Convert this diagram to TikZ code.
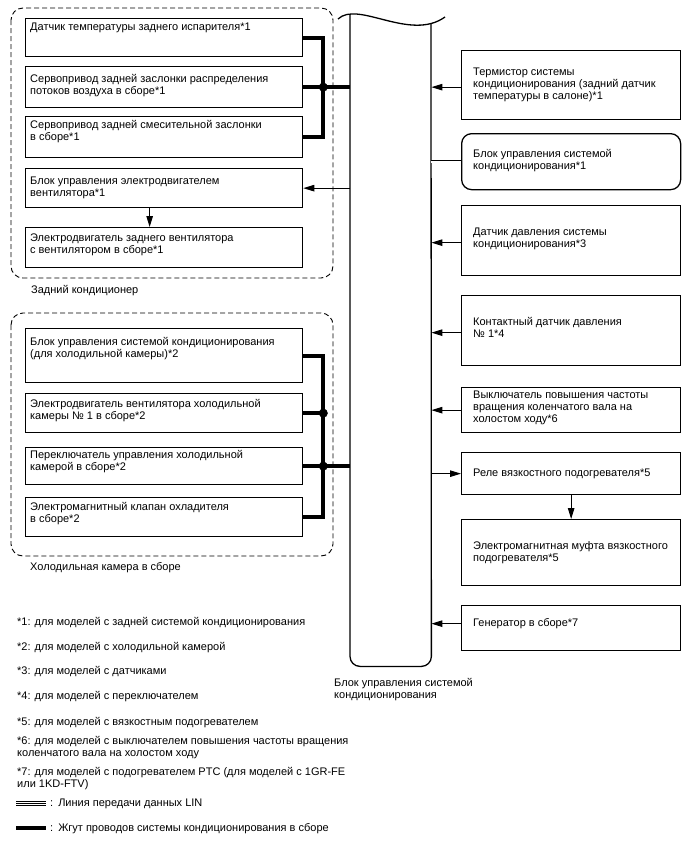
\documentclass[tikz,border=0pt]{standalone}
\usepackage{fontspec}
\setmainfont{Liberation Sans}
\usetikzlibrary{arrows.meta}
\newcommand\mkbox[6][box]{\node[#1, minimum width=#5, minimum height=#6] (#2) at (#3,#4) {};}
\begin{document}
\begin{tikzpicture}[x=1pt,y=-1pt,
  box/.style={draw, line width=1.3pt, inner sep=0pt, anchor=north west},
  rbox/.style={box, rounded corners=10pt},
  txt/.style={anchor=north west, inner sep=0pt, align=left, font=\fontsize{11}{12}\selectfont, execute at begin node=\strut},
  grp/.style={draw, dash pattern=on 5pt off 3pt, line width=0.9pt, rounded corners=12pt},
  harness/.style={line width=3.8pt},
  sig/.style={line width=1pt, -{Triangle[length=11pt,width=6.5pt]}},
  lin/.style={line width=0.7pt, double, double distance=2.2pt},
  jdot/.style={circle, fill=black, draw=black, inner sep=0pt, minimum size=8.5pt},
]
\useasboundingbox (0,0) rectangle (688,852);

% groups
\draw[grp] (11,8) rectangle (333,278);
\draw[grp] (11,313) rectangle (333,556);

% central bar
\node[inner sep=0pt, minimum width=81, minimum height=652, anchor=north west] (bar) at (350,14) {};
\draw[line width=1.3pt, rounded corners=10pt] (bar.north west) -- (bar.south west) -- (bar.south east) -- (431,24);
\draw[line width=1.3pt] (338,19) .. controls (358,0) and (410,42) .. (445,17);
\node[txt] (tbar) at (334,678.6) {Блок управления системой\\кондиционирования};

% left boxes, group 1
\mkbox{A}{25}{18}{277}{38}
\mkbox{B}{25}{66}{277}{41}
\mkbox{C}{25}{116}{277}{41}
\mkbox{D}{25}{168}{277}{39}
\mkbox{E}{25}{227}{277}{40}
\node[txt] (tA) at (30,21.6) {Датчик температуры заднего испарителя*1};
\node[txt] (tB) at (30,74.6) {Сервопривод задней заслонки распределения\\потоков воздуха в сборе*1};
\node[txt] (tC) at (30,120.6) {Сервопривод задней смесительной заслонки\\в сборе*1};
\node[txt] (tD) at (30,176.6) {Блок управления электродвигателем\\вентилятора*1};
\node[txt] (tE) at (30,233.6) {Электродвигатель заднего вентилятора\\с вентилятором в сборе*1};
\node[txt] (g1) at (31,284.6) {Задний кондиционер};

% left boxes, group 2
\mkbox{F}{25}{328}{277}{54}
\mkbox{G}{25}{393}{277}{39}
\mkbox{H}{25}{447}{277}{37}
\mkbox{I}{25}{497}{277}{39}
\node[txt] (tF) at (30,337.6) {Блок управления системой кондиционирования\\(для холодильной камеры)*2};
\node[txt] (tG) at (30,399.6) {Электродвигатель вентилятора холодильной\\камеры № 1 в сборе*2};
\node[txt] (tH) at (30,450.6) {Переключатель управления холодильной\\камерой в сборе*2};
\node[txt] (tI) at (30,502.6) {Электромагнитный клапан охладителя\\в сборе*2};
\node[txt] (g2) at (30,561.6) {Холодильная камера в сборе};

% right boxes
\mkbox{R1}{461}{50}{219}{69}
\mkbox[rbox]{R2}{461}{133}{219}{56}
\mkbox{R3}{461}{205}{219}{70}
\mkbox{R4}{461}{295}{219}{70}
\mkbox{R5}{461}{387}{219}{45}
\mkbox{R6}{461}{452}{219}{42}
\mkbox{R7}{461}{519}{219}{66}
\mkbox{R8}{461}{605}{219}{45}
\node[txt] (t1) at (473,67.6) {Термистор системы\\кондиционирования (задний датчик\\температуры в салоне)*1};
\node[txt] (t2) at (473,149.6) {Блок управления системой\\кондиционирования*1};
\node[txt] (t3) at (473,227.6) {Датчик давления системы\\кондиционирования*3};
\node[txt] (t4) at (473,317.6) {Контактный датчик давления\\№ 1*4};
\node[txt] (t5) at (473,390.6) {Выключатель повышения частоты\\вращения коленчатого вала на\\холостом ходу*6};
\node[txt] (t6) at (473,467.6) {Реле вязкостного подогревателя*5};
\node[txt] (t7) at (473,541.6) {Электромагнитная муфта вязкостного\\подогревателя*5};
\node[txt] (t8) at (473,617.6) {Генератор в сборе*7};

% harness group 1
\path (B.east) ++(20,0) coordinate (j1);
\draw[harness] (A.east) -| (j1) |- (C.east);
\draw[harness] (B.east) -- (B.east -| bar.west);
\node[jdot] (d1) at (j1) {};

% harness group 2
\path (G.east) ++(20,0) coordinate (j2);
\path (H.east) ++(20,0) coordinate (j3);
\draw[harness] (F.east) -| (j2) -- (j3) |- (I.east);
\draw[harness] (H.east) -- (H.east -| bar.west);
\draw[harness] (G.east) -- (j2);
\node[jdot] (d2) at (j2) {};
\node[jdot] (d3) at (j3) {};

% signals left
\draw[sig] (bar.west |- D.east) -- (D.east);
\draw[sig] ([xshift=-14.5pt]D.south) -- ([xshift=-14.5pt]D.south |- E.north);

% signals right
\draw[sig] ([yshift=-2pt]R1.west) -- ([yshift=-2pt]R1.west -| bar.east);
\draw[lin] (bar.east |- R2.west) -- (R2.west);
\draw[sig] ([yshift=-2pt]R3.west) -- ([yshift=-2pt]R3.west -| bar.east);
\draw[sig] ([yshift=-2pt]R4.west) -- ([yshift=-2pt]R4.west -| bar.east);
\draw[sig] (R5.west) -- (R5.west -| bar.east);
\draw[sig] (bar.east |- R6.west) -- (R6.west);
\draw[sig] (R6.south) -- (R7.north);
\draw[sig] ([yshift=4.5pt]R8.west) -- ([yshift=4.5pt]R8.west -| bar.east);

% legend
\node[txt] (n1) at (17,616.6) {*1: для моделей с задней системой кондиционирования};
\node[txt] (n2) at (17,641.6) {*2: для моделей с холодильной камерой};
\node[txt] (n3) at (17,665.6) {*3: для моделей с датчиками};
\node[txt] (n4) at (17,690.6) {*4: для моделей с переключателем};
\node[txt] (n5) at (17,716.6) {*5: для моделей с вязкостным подогревателем};
\node[txt] (n6) at (17,736.6) {*6: для моделей с выключателем повышения частоты вращения\\коленчатого вала на холостом ходу};
\node[txt] (n7) at (17,767.6) {*7: для моделей с подогревателем PTC (для моделей с 1GR-FE\\или 1KD-FTV)};
\coordinate (la) at (16,803);
\coordinate (lb) at (46,803);
\draw[line width=0.6pt] ([yshift=2.2pt]la) -- ([yshift=2.2pt]lb);
\draw[line width=0.6pt] (la) -- (lb);
\draw[line width=0.6pt] ([yshift=-2.2pt]la) -- ([yshift=-2.2pt]lb);
\node[txt] (nlin) at (50,797.6) {:\hspace{5pt}Линия передачи данных LIN};
\coordinate (ha) at (16,828);
\coordinate (hb) at (46,828);
\draw[harness] (ha) -- (hb);
\node[txt] (nh) at (50,822.6) {:\hspace{5pt}Жгут проводов системы кондиционирования в сборе};
\end{tikzpicture}
\end{document}
